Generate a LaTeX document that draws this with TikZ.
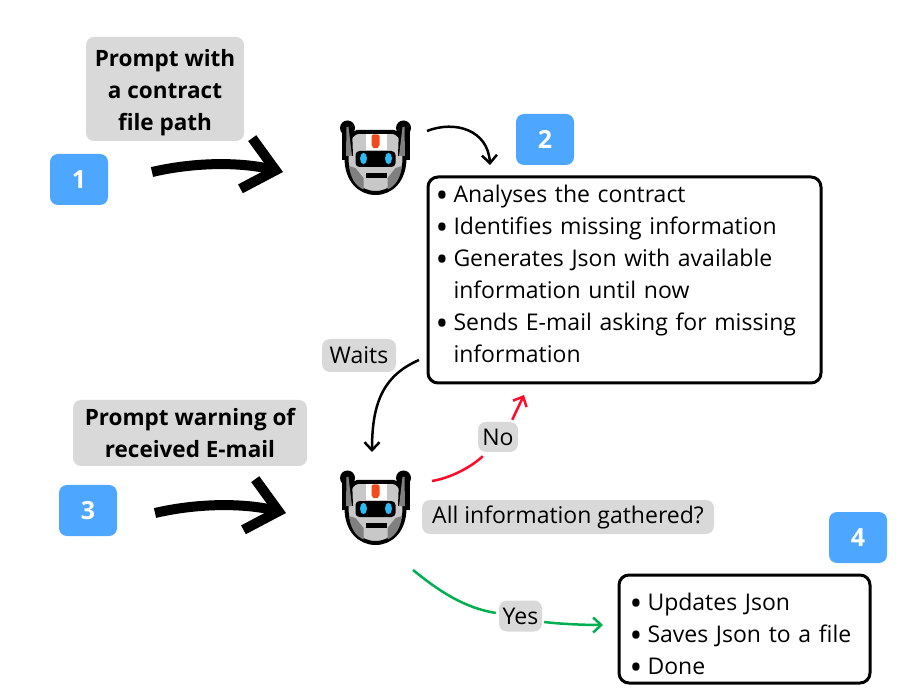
\documentclass[tikz,border=0pt]{standalone}
\usepackage{fontspec}
\setmainfont{Open Sans}
\usetikzlibrary{arrows.meta}

\definecolor{badgeblue}{HTML}{4DA6FF}
\definecolor{labelgrey}{HTML}{D9D9D9}
\definecolor{noRed}{HTML}{FF0A28}
\definecolor{yesGreen}{HTML}{00B050}
\definecolor{eyeblue}{HTML}{2CBCF5}
\definecolor{headgrey}{HTML}{C8C8C8}
\definecolor{sidegrey}{HTML}{808080}
\definecolor{stripered}{HTML}{F24A1D}

\newcommand{\bul}{\makebox[16pt][l]{\hspace*{-2pt}\raisebox{-5pt}{\fontsize{34}{32}\selectfont\textbullet}}}

\tikzset{
  txt/.style={font=\fontsize{23}{32}\selectfont, text=black},
  badge/.style={fill=badgeblue, rounded corners=8pt, minimum width=58pt, minimum height=51pt, inner sep=0pt, text=white, font=\fontsize{25}{30}\selectfont\bfseries},
  label/.style={txt, fill=labelgrey, rounded corners=8pt, inner sep=0pt, align=center},
  boldlabel/.style={label, font=\fontsize{22.5}{32}\selectfont\bfseries},
  panel/.style={txt, draw=black, line width=3pt, fill=white, rounded corners=10pt, inner sep=0pt, align=left},
  bigarrow/.style={line width=10pt, -{Straight Barb[length=30pt, width=52pt, line width=10pt]}},
  smallarrow/.style={line width=2.5pt, -{Straight Barb[length=8pt, width=15pt]}},
  robot/.pic={
    % outer edge of the antennas
    \draw[line width=5pt] (-31.5,-30) -- (-31.5,2);
    \draw[line width=5pt] (31.5,-30) -- (31.5,2);
    % head
    \draw[line width=4pt, fill=headgrey] (-18,-26) -- (18,-26) .. controls (26,-24) and (29,-14) .. (29,0) .. controls (29,22) and (16,35) .. (0,35) .. controls (-16,35) and (-29,22) .. (-29,0) .. controls (-29,-14) and (-26,-24) .. (-18,-26) -- cycle;
    \fill[white] (-10,-24) rectangle (11,-8);
    \fill[sidegrey] (-26.5,8) .. controls (-25,20) and (-20,28) .. (-12,31.5) -- (-12,20) -- (-20,10) -- cycle;
    \fill[sidegrey] (26.5,8) .. controls (25,20) and (20,28) .. (12,31.5) -- (12,20) -- (20,10) -- cycle;
    \fill[stripered, rounded corners=2pt] (-4,-23.5) -- (4,-23.5) -- (4,-11) -- (0,-9) -- (-4,-11) -- cycle;
    % antennas
    \draw[line width=8pt] (-27.5,-30) -- (-26.5,-2);
    \draw[line width=8pt] (27.5,-30) -- (26.5,-2);
    \fill (-28,-30) circle (7.5);
    \fill (28,-30) circle (7.5);
    \fill[sidegrey] (-29,-31) -- (-27,-31) -- (-23.5,-2) -- (-29.5,-2) -- cycle;
    \fill[sidegrey] (29,-31) -- (27,-31) -- (23.5,-2) -- (29.5,-2) -- cycle;
    % visor
    \fill[rounded corners=4pt] (-20,-7) rectangle (20,9);
    \fill[eyeblue] (-12,0.5) ellipse (3.5 and 5.7);
    \fill[eyeblue] (13,0.5) ellipse (3.5 and 5.7);
    \fill (-10,15) rectangle (11,20);
  }
}

\begin{document}
\begin{tikzpicture}[x=1pt, y=-1pt]
  \useasboundingbox (0,0) rectangle (900,700);

  % Robots
  \pic at (375.5,158) {robot};
  \pic at (375.5,508) {robot};

  % Badges
  \node[badge] (b1) at (79,179.5) {1};
  \node[badge] (b2) at (545,139.5) {2};
  \node[badge] (b3) at (88,510.5) {3};
  \node[badge] (b4) at (858,537.5) {4};

  % Labels
  \node[boldlabel, minimum width=158pt, minimum height=104pt] (prompt1) at (165,89) {\rule{0pt}{25pt}Prompt with\\a contract\\file path};
  \node[boldlabel, minimum width=234pt, minimum height=66pt] (prompt3) at (190,433) {Prompt warning of\\received E-mail};
  \node[label, minimum width=74pt, minimum height=33pt] (waits) at (359,355.5) {Waits};
  \node[label, minimum width=40pt, minimum height=30pt] (no) at (498,437) {No};
  \node[label, minimum width=292pt, minimum height=34pt] (gathered) at (568,517) {All information gathered?};
  \node[label, minimum width=43pt, minimum height=31pt] (yes) at (520.5,616) {Yes};

  % Panels
  \node[panel, minimum width=393pt, minimum height=206pt, text width=374pt] (tasks) at (624.5,280) {\bul Analyses the contract\\\bul Identifies missing information\\\bul Generates Json with available\\\hspace*{16pt}information until now\\\bul Sends E-mail asking for missing\\\hspace*{16pt}information\\[-20pt]\mbox{}};
  \node[panel, minimum width=251pt, minimum height=108pt, text width=226pt] (final) at (744.5,629) {\rule{0pt}{32pt}\bul Updates Json\\\bul Saves Json to a file\\\bul Done};

  % Free ends
  \coordinate (big1s) at (152,172);
  \coordinate (big1e) at (283,172);
  \coordinate (big3s) at (155,513);
  \coordinate (big3e) at (286,513);
  \coordinate (r1out) at (427,131);
  \coordinate (taskin) at (490,165);
  \coordinate (taskout) at (419,360);
  \coordinate (r2in) at (372,452);
  \coordinate (r2no) at (432,481);
  \coordinate (noend) at (524,395);
  \coordinate (r2yes) at (413,570);
  \coordinate (yesend) at (603,625);

  % Arrows
  \draw[bigarrow] (big1s) .. controls (195,162) and (240,162) .. (big1e);
  \draw[bigarrow] (big3s) .. controls (198,503) and (243,503) .. (big3e);
  \draw[smallarrow] (r1out) .. controls (455,120) and (488,130) .. (taskin);
  \draw[smallarrow] (taskout) .. controls (385,375) and (372,400) .. (r2in);
  \draw[line width=2.5pt, noRed] (r2no) .. controls (450,478) and (470,468) .. ([xshift=5pt,yshift=-4pt]no.south west);
  \draw[smallarrow, noRed] ([xshift=-6pt,yshift=2pt]no.north east) -- (noend);
  \draw[line width=2.5pt, yesGreen] (r2yes) .. controls (440,592) and (465,608) .. ([xshift=-3pt,yshift=3pt]yes.west);
  \draw[smallarrow, yesGreen] ([xshift=2pt,yshift=-6pt]yes.east) .. controls (560,624) and (585,625) .. (yesend);
\end{tikzpicture}
\end{document}
